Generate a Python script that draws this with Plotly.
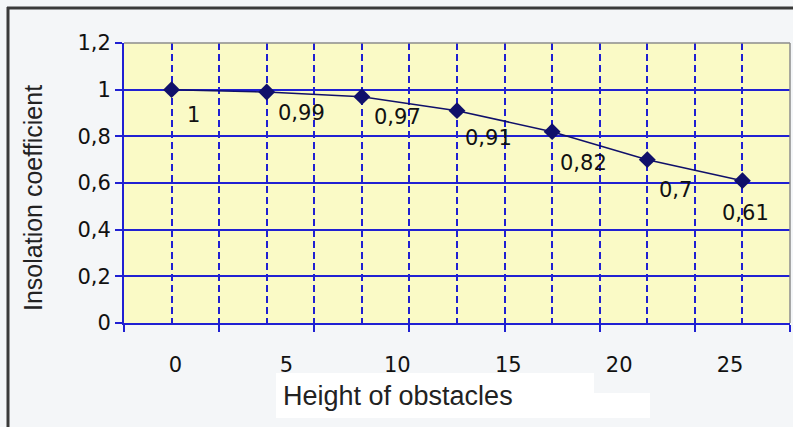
import plotly.graph_objects as go

# data
heights_idx = [0, 1, 2, 3, 4, 5, 6]
coef = [1, 0.99, 0.97, 0.91, 0.82, 0.7, 0.61]
coef_text = [str(v).replace('.', ',') for v in coef]

# label offsets (px) right / down from each point
label_dx = [13, 9, 10, 6, 6, 10, -22]
label_dy = [25, 21, 20, 27, 31, 30, 32]

W, H = 793, 427
ML, MR, MT, MB = 124, 3, 43, 104
PW, PH = W - ML - MR, H - MT - MB

BLUE = "#2020d2"
NAVY = "#10106a"
TXT = "#222222"
NUMFONT = dict(family="DejaVu Sans", size=21, color="#111111")


def px(x):
    return (x - ML) / PW


def py(y):
    return (MT + PH - y) / PH


fig = go.Figure()

fig.add_trace(go.Scatter(
    x=heights_idx, y=coef,
    mode="lines+markers",
    line=dict(color=NAVY, width=1.5),
    marker=dict(symbol="diamond", size=13, color=NAVY),
    showlegend=False, hoverinfo="skip",
))

# invisible trace so the label axis gets drawn
fig.add_trace(go.Scatter(x=[0], y=[0], xaxis="x2", mode="markers",
                         marker=dict(opacity=0), showlegend=False, hoverinfo="skip"))

for i in range(len(coef)):
    fig.add_annotation(
        x=heights_idx[i], y=coef[i], text=coef_text[i], showarrow=False,
        xanchor="left", yanchor="middle",
        xshift=label_dx[i], yshift=-label_dy[i],
        font=NUMFONT,
    )

fig.add_annotation(
    x=px(33), y=py(198), xref="paper", yref="paper", text="Insolation coefficient",
    textangle=-90, showarrow=False, xanchor="center", yanchor="middle",
    font=dict(family="Liberation Sans", size=25, color=TXT),
)
fig.add_annotation(
    x=px(281), y=py(396), xref="paper", yref="paper", text="Height of obstacles",
    showarrow=False, xanchor="left", yanchor="middle",
    font=dict(family="Liberation Sans", size=27, color=TXT),
)

shapes = [
    # white patch behind the x title
    dict(type="rect", xref="paper", yref="paper", x0=px(276), x1=px(594), y0=py(373), y1=py(418),
         fillcolor="white", line_width=0, layer="below"),
    dict(type="rect", xref="paper", yref="paper", x0=px(594), x1=px(650), y0=py(393), y1=py(418),
         fillcolor="white", line_width=0, layer="below"),
    # plot frame top / right
    dict(type="line", xref="paper", yref="paper", x0=0, x1=1, y0=1, y1=1,
         line=dict(color="#8c8c8c", width=1.5), layer="above"),
    dict(type="line", xref="paper", yref="paper", x0=1, x1=1, y0=0, y1=1,
         line=dict(color="#8c8c8c", width=1.5), layer="above"),
    # outer picture border
    dict(type="line", xref="paper", yref="paper", x0=px(7), x1=px(W), y0=py(8), y1=py(8),
         line=dict(color="#3a3a3a", width=3)),
    dict(type="line", xref="paper", yref="paper", x0=px(8), x1=px(8), y0=py(7), y1=py(H + 5),
         line=dict(color="#3a3a3a", width=3)),
]

fig.update_layout(
    width=W, height=H,
    margin=dict(l=ML, r=MR, t=MT, b=MB, pad=0),
    paper_bgcolor="#f4f6f8",
    plot_bgcolor="#fafac6",
    separators=", ",
    shapes=shapes,
    xaxis=dict(
        range=[-0.5, 6.5], tick0=0.5, dtick=1,
        showticklabels=False, ticks="outside", ticklen=7, tickwidth=2, tickcolor=BLUE,
        showgrid=True, gridcolor=BLUE, gridwidth=2, griddash="7px,4px",
        minor=dict(tick0=0, dtick=1, showgrid=True, gridcolor=BLUE, gridwidth=2,
                   griddash="7px,4px", ticks=""),
        showline=True, linecolor=BLUE, linewidth=2, zeroline=False,
    ),
    xaxis2=dict(
        overlaying="x", side="bottom", anchor="y",
        range=[-2.32, 27.7], tick0=0, dtick=5,
        ticks="outside", ticklen=23, tickcolor="rgba(0,0,0,0)",
        showgrid=False, zeroline=False, showline=False,
        tickfont=NUMFONT,
    ),
    yaxis=dict(
        range=[0, 1.2], tick0=0, dtick=0.2,
        ticks="outside", ticklen=7, tickwidth=2, tickcolor=BLUE,
        showgrid=True, gridcolor=BLUE, gridwidth=2,
        showline=True, linecolor=BLUE, linewidth=2, zeroline=False,
        tickfont=NUMFONT,
    ),
)

fig.write_html("out.html", config={"displayModeBar": False},
               post_script="document.body.style.margin='0px';document.body.style.overflow='hidden';")
